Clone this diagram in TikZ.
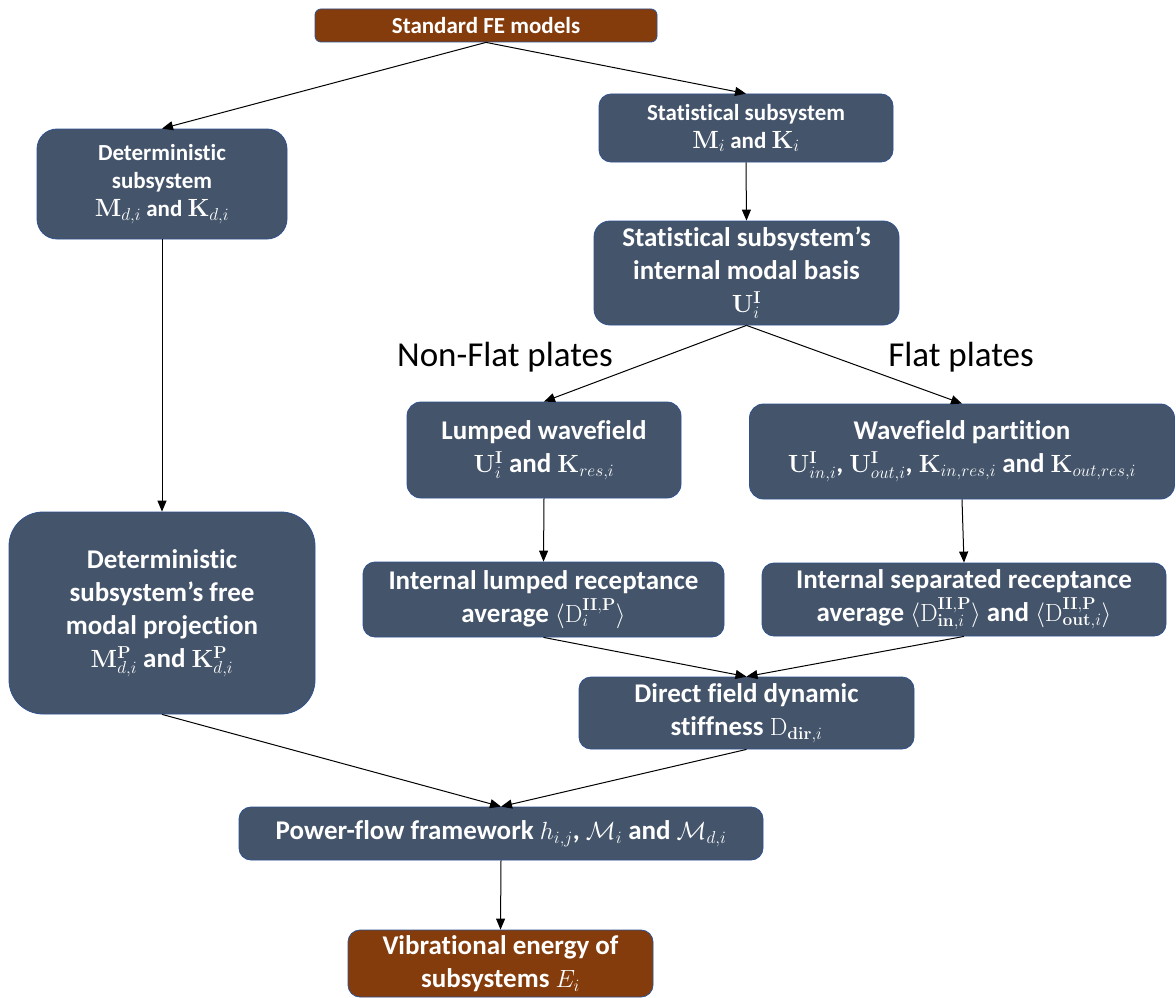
\documentclass[tikz,border=0pt]{standalone}
\usepackage[no-math]{fontspec}
\setmainfont{Carlito}[Ligatures=NoCommon]
\usetikzlibrary{arrows.meta}
\definecolor{boxblue}{HTML}{44546A}
\definecolor{boxbrown}{HTML}{843C0C}
\definecolor{edgeblue}{HTML}{2F528F}
\tikzset{
  box/.style={draw=edgeblue, line width=0.8pt, fill=boxblue, text=white,
    align=center, inner sep=0pt, rounded corners=#1},
  box/.default=12pt,
  brownbox/.style={box=#1, fill=boxbrown},
  brownbox/.default=6pt,
  fsmall/.style={font=\bfseries\fontsize{23}{28}\selectfont},
  fbig/.style={font=\bfseries\fontsize{27}{33}\selectfont},
  lab/.style={font=\fontsize{35}{42}\selectfont, inner sep=0pt},
  arr/.style={-{Triangle[length=11pt,width=9pt]}, line width=1pt, draw=black},
}
\begin{document}
\begin{tikzpicture}[x=1pt,y=-1pt]
\useasboundingbox (0,0) rectangle (1176,998);
\fill[white] (0,0) rectangle (1176,998);

\node[brownbox=6pt, fsmall, minimum width=342pt, minimum height=33pt] (fe) at (486,25.5) {Standard FE models};

\node[box=20pt, fsmall, minimum width=250pt, minimum height=110pt] (det) at (162,184)
  {Deterministic\\subsystem\\$\mathbf{M}_{d,i}$ and $\mathbf{K}_{d,i}$};

\node[box=12pt, fsmall, minimum width=294pt, minimum height=68pt] (stat) at (746,128)
  {Statistical subsystem\\$\mathbf{M}_i$ and $\mathbf{K}_i$};

\node[box=16pt, fbig, minimum width=305pt, minimum height=104pt] (basis) at (746.5,273)
  {Statistical subsystem’s\\internal modal basis\\$\mathbf{U}_i^{\mathbf{I}}$};

\node[lab] (nonflat) at (505,357) {Non-Flat plates};
\node[lab] (flat) at (961,357) {Flat plates};

\node[box=14pt, fbig, minimum width=274pt, minimum height=96pt] (lumped) at (544,450)
  {Lumped wavefield\\$\mathbf{U}_i^{\mathbf{I}}$ and $\mathbf{K}_{res,i}$};

\node[box=14pt, fbig, minimum width=425pt, minimum height=95pt] (part) at (962,451.5)
  {Wavefield partition\\$\mathbf{U}^{\mathbf{I}}_{in,i}$, $\mathbf{U}^{\mathbf{I}}_{out,i}$, $\mathbf{K}_{in,res,i}$ and $\mathbf{K}_{out,res,i}$};

\node[box=12pt, fbig, minimum width=361pt, minimum height=75pt] (intl) at (543.5,599.5)
  {Internal lumped receptance\\average $\langle \mathrm{D}_i^{\mathbf{II,P}}\rangle$};

\node[box=12pt, fbig, minimum width=404pt, minimum height=73pt] (ints) at (964,599.5)
  {Internal separated receptance\\average $\langle \mathrm{D}^{\mathbf{II,P}}_{\mathbf{in},i}\rangle$ and $\langle \mathrm{D}^{\mathbf{II,P}}_{\mathbf{out},i}\rangle$};

\node[box=12pt, fbig, minimum width=335pt, minimum height=72pt] (direct) at (746.5,713)
  {Direct field dynamic\\stiffness $\mathrm{D}_{\mathbf{dir},i}$};

\node[box=34pt, fbig, minimum width=306pt, minimum height=202pt] (proj) at (162,613)
  {Deterministic\\subsystem’s free\\modal projection\\$\mathbf{M}^{\mathbf{P}}_{d,i}$ and $\mathbf{K}^{\mathbf{P}}_{d,i}$};

\node[box=12pt, fbig, minimum width=524pt, minimum height=53pt] (power) at (501,833.5)
  {Power-flow framework $h_{i,j}$, $\mathcal{M}_i$ and $\mathcal{M}_{d,i}$};

\node[brownbox=12pt, fbig, minimum width=305pt, minimum height=67pt] (vib) at (500.5,963.5)
  {Vibrational energy of\\subsystems $E_i$};

\draw[arr] (fe.south) -- (det.north);
\draw[arr] (fe.south) -- (stat.north);
\draw[arr] (stat.south) -- (basis.north);
\draw[arr] (det.south) -- (proj.north);
\draw[arr] (basis.south) -- (lumped.north);
\draw[arr] (basis.south) -- (part.north);
\draw[arr] (lumped.south) -- (intl.north);
\draw[arr] (part.south) -- (ints.north);
\draw[arr] (intl.south) -- (direct.north);
\draw[arr] (ints.south) -- (direct.north);
\draw[arr] (proj.south) -- (power.north);
\draw[arr] (direct.south) -- (power.north);
\draw[arr] (power.south) -- (vib.north);
\end{tikzpicture}
\end{document}
